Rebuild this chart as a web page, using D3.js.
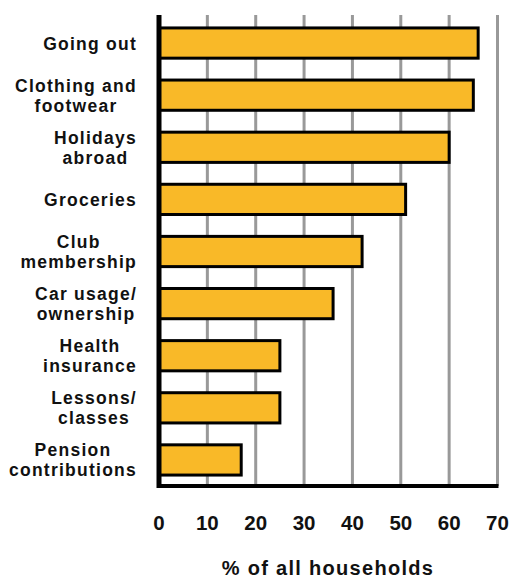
<!DOCTYPE html>
<html>
<head>
<meta charset="utf-8">
<script src="https://cdn.jsdelivr.net/npm/d3@7"></script>
<style>
  html, body { margin: 0; padding: 0; background: #fff; }
  svg { display: block; font-family: "Liberation Sans", Arial, sans-serif; font-weight: bold; }
</style>
</head>
<body>
<div id="chart"></div>
<script>
const categories = [
  ['Going out'],
  ['Clothing and', 'footwear'],
  ['Holidays', 'abroad'],
  ['Groceries'],
  ['Club', 'membership'],
  ['Car usage/', 'ownership'],
  ['Health', 'insurance'],
  ['Lessons/', 'classes'],
  ['Pension', 'contributions']
];
const values = [66, 65, 60, 51, 42, 36, 25, 25, 17];
const xTicks = [0, 10, 20, 30, 40, 50, 60, 70];
const xTitle = '% of all households';

const width = 512;
const height = 579;
const margin = { top: 17, right: 15, bottom: 93, left: 159 };
const innerH = height - margin.top - margin.bottom;

const svg = d3.select('#chart')
  .append('svg')
  .attr('width', width)
  .attr('height', height);

const g = svg.append('g')
  .attr('transform', `translate(${margin.left},${margin.top})`);

const x = d3.scaleLinear()
  .domain([0, 70])
  .range([0, 338.5]);

const y = d3.scaleBand()
  .domain(d3.range(categories.length))
  .range([0, innerH])
  .paddingInner(0.42)
  .paddingOuter(0.21);

// vertical grid lines
g.selectAll('.grid')
  .data(xTicks.filter(d => d > 0))
  .join('line')
  .attr('class', 'grid')
  .attr('x1', d => x(d))
  .attr('x2', d => x(d))
  .attr('y1', -2)
  .attr('y2', innerH)
  .attr('stroke', '#999')
  .attr('stroke-width', 3);

// bars
g.selectAll('.bar')
  .data(values)
  .join('rect')
  .attr('class', 'bar')
  .attr('x', 0)
  .attr('y', (d, i) => y(i))
  .attr('width', d => x(d))
  .attr('height', y.bandwidth())
  .attr('fill', '#F9B928')
  .attr('stroke', '#000')
  .attr('stroke-width', 3);

// axis lines
g.append('line')
  .attr('x1', 0).attr('x2', 0)
  .attr('y1', -2).attr('y2', innerH + 2)
  .attr('stroke', '#000')
  .attr('stroke-width', 5);

g.append('line')
  .attr('x1', -2).attr('x2', x(70) + 1)
  .attr('y1', innerH).attr('y2', innerH)
  .attr('stroke', '#000')
  .attr('stroke-width', 4);

// x tick labels
g.selectAll('.tick-label')
  .data(xTicks)
  .join('text')
  .attr('class', 'tick-label')
  .attr('x', d => x(d))
  .attr('y', innerH + 44)
  .attr('text-anchor', 'middle')
  .attr('font-size', 20.5)
  .attr('fill', '#111')
  .text(d => d);

// x title
svg.append('text')
  .attr('x', 328)
  .attr('y', 575)
  .attr('text-anchor', 'middle')
  .attr('font-size', 20)
  .attr('letter-spacing', 1.3)
  .attr('fill', '#111')
  .text(xTitle);

// category labels: block right-aligned, lines centred in the block
const labelRight = 137;
const lineH = 20;

categories.forEach((lines, i) => {
  const cy = margin.top + y(i) + y.bandwidth() / 2;
  const grp = svg.append('g');
  const texts = lines.map((s, k) => grp.append('text')
    .attr('font-size', 17.5)
    .attr('letter-spacing', 1.25)
    .attr('fill', '#111')
    .attr('text-anchor', 'middle')
    .attr('y', cy + 6.5 + (k - (lines.length - 1) / 2) * lineH)
    .text(s));
  const widest = d3.max(texts, t => t.node().getComputedTextLength());
  texts.forEach(t => t.attr('x', labelRight - widest / 2));
});
</script>
</body>
</html>
